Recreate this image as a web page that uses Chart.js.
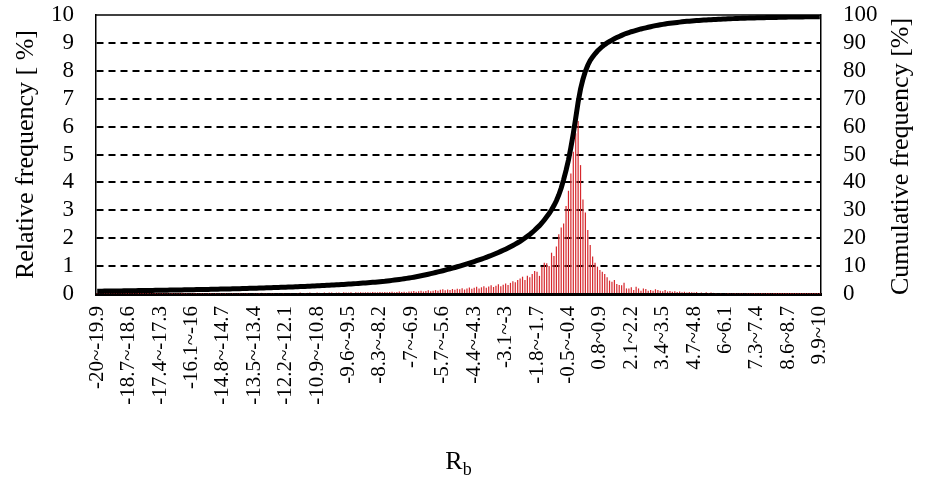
<!DOCTYPE html>
<html>
<head>
<meta charset="utf-8">
<script src="https://cdn.jsdelivr.net/npm/chart.js@4.4.0/dist/chart.umd.min.js"></script>
<style>
  html, body { margin: 0; padding: 0; background: #fff; }
  #wrap { width: 925px; height: 479px; }
</style>
</head>
<body>
<div id="wrap"><canvas id="myChart" width="925" height="479"></canvas></div>
<script>
// bins of R_b, 0.1 wide, from -20 to 10
var binLabels = [
  '-20~-19.9','-19.9~-19.8','-19.8~-19.7','-19.7~-19.6','-19.6~-19.5','-19.5~-19.4','-19.4~-19.3','-19.3~-19.2','-19.2~-19.1','-19.1~-19',
  '-19~-18.9','-18.9~-18.8','-18.8~-18.7','-18.7~-18.6','-18.6~-18.5','-18.5~-18.4','-18.4~-18.3','-18.3~-18.2','-18.2~-18.1','-18.1~-18',
  '-18~-17.9','-17.9~-17.8','-17.8~-17.7','-17.7~-17.6','-17.6~-17.5','-17.5~-17.4','-17.4~-17.3','-17.3~-17.2','-17.2~-17.1','-17.1~-17',
  '-17~-16.9','-16.9~-16.8','-16.8~-16.7','-16.7~-16.6','-16.6~-16.5','-16.5~-16.4','-16.4~-16.3','-16.3~-16.2','-16.2~-16.1','-16.1~-16',
  '-16~-15.9','-15.9~-15.8','-15.8~-15.7','-15.7~-15.6','-15.6~-15.5','-15.5~-15.4','-15.4~-15.3','-15.3~-15.2','-15.2~-15.1','-15.1~-15',
  '-15~-14.9','-14.9~-14.8','-14.8~-14.7','-14.7~-14.6','-14.6~-14.5','-14.5~-14.4','-14.4~-14.3','-14.3~-14.2','-14.2~-14.1','-14.1~-14',
  '-14~-13.9','-13.9~-13.8','-13.8~-13.7','-13.7~-13.6','-13.6~-13.5','-13.5~-13.4','-13.4~-13.3','-13.3~-13.2','-13.2~-13.1','-13.1~-13',
  '-13~-12.9','-12.9~-12.8','-12.8~-12.7','-12.7~-12.6','-12.6~-12.5','-12.5~-12.4','-12.4~-12.3','-12.3~-12.2','-12.2~-12.1','-12.1~-12',
  '-12~-11.9','-11.9~-11.8','-11.8~-11.7','-11.7~-11.6','-11.6~-11.5','-11.5~-11.4','-11.4~-11.3','-11.3~-11.2','-11.2~-11.1','-11.1~-11',
  '-11~-10.9','-10.9~-10.8','-10.8~-10.7','-10.7~-10.6','-10.6~-10.5','-10.5~-10.4','-10.4~-10.3','-10.3~-10.2','-10.2~-10.1','-10.1~-10',
  '-10~-9.9','-9.9~-9.8','-9.8~-9.7','-9.7~-9.6','-9.6~-9.5','-9.5~-9.4','-9.4~-9.3','-9.3~-9.2','-9.2~-9.1','-9.1~-9',
  '-9~-8.9','-8.9~-8.8','-8.8~-8.7','-8.7~-8.6','-8.6~-8.5','-8.5~-8.4','-8.4~-8.3','-8.3~-8.2','-8.2~-8.1','-8.1~-8',
  '-8~-7.9','-7.9~-7.8','-7.8~-7.7','-7.7~-7.6','-7.6~-7.5','-7.5~-7.4','-7.4~-7.3','-7.3~-7.2','-7.2~-7.1','-7.1~-7',
  '-7~-6.9','-6.9~-6.8','-6.8~-6.7','-6.7~-6.6','-6.6~-6.5','-6.5~-6.4','-6.4~-6.3','-6.3~-6.2','-6.2~-6.1','-6.1~-6',
  '-6~-5.9','-5.9~-5.8','-5.8~-5.7','-5.7~-5.6','-5.6~-5.5','-5.5~-5.4','-5.4~-5.3','-5.3~-5.2','-5.2~-5.1','-5.1~-5',
  '-5~-4.9','-4.9~-4.8','-4.8~-4.7','-4.7~-4.6','-4.6~-4.5','-4.5~-4.4','-4.4~-4.3','-4.3~-4.2','-4.2~-4.1','-4.1~-4',
  '-4~-3.9','-3.9~-3.8','-3.8~-3.7','-3.7~-3.6','-3.6~-3.5','-3.5~-3.4','-3.4~-3.3','-3.3~-3.2','-3.2~-3.1','-3.1~-3',
  '-3~-2.9','-2.9~-2.8','-2.8~-2.7','-2.7~-2.6','-2.6~-2.5','-2.5~-2.4','-2.4~-2.3','-2.3~-2.2','-2.2~-2.1','-2.1~-2',
  '-2~-1.9','-1.9~-1.8','-1.8~-1.7','-1.7~-1.6','-1.6~-1.5','-1.5~-1.4','-1.4~-1.3','-1.3~-1.2','-1.2~-1.1','-1.1~-1',
  '-1~-0.9','-0.9~-0.8','-0.8~-0.7','-0.7~-0.6','-0.6~-0.5','-0.5~-0.4','-0.4~-0.3','-0.3~-0.2','-0.2~-0.1','-0.1~0',
  '0~0.1','0.1~0.2','0.2~0.3','0.3~0.4','0.4~0.5','0.5~0.6','0.6~0.7','0.7~0.8','0.8~0.9','0.9~1',
  '1~1.1','1.1~1.2','1.2~1.3','1.3~1.4','1.4~1.5','1.5~1.6','1.6~1.7','1.7~1.8','1.8~1.9','1.9~2',
  '2~2.1','2.1~2.2','2.2~2.3','2.3~2.4','2.4~2.5','2.5~2.6','2.6~2.7','2.7~2.8','2.8~2.9','2.9~3',
  '3~3.1','3.1~3.2','3.2~3.3','3.3~3.4','3.4~3.5','3.5~3.6','3.6~3.7','3.7~3.8','3.8~3.9','3.9~4',
  '4~4.1','4.1~4.2','4.2~4.3','4.3~4.4','4.4~4.5','4.5~4.6','4.6~4.7','4.7~4.8','4.8~4.9','4.9~5',
  '5~5.1','5.1~5.2','5.2~5.3','5.3~5.4','5.4~5.5','5.5~5.6','5.6~5.7','5.7~5.8','5.8~5.9','5.9~6',
  '6~6.1','6.1~6.2','6.2~6.3','6.3~6.4','6.4~6.5','6.5~6.6','6.6~6.7','6.7~6.8','6.8~6.9','6.9~7',
  '7~7.1','7.1~7.2','7.2~7.3','7.3~7.4','7.4~7.5','7.5~7.6','7.6~7.7','7.7~7.8','7.8~7.9','7.9~8',
  '8~8.1','8.1~8.2','8.2~8.3','8.3~8.4','8.4~8.5','8.5~8.6','8.6~8.7','8.7~8.8','8.8~8.9','8.9~9',
  '9~9.1','9.1~9.2','9.2~9.3','9.3~9.4','9.4~9.5','9.5~9.6','9.6~9.7','9.7~9.8','9.8~9.9','9.9~10'
];

// relative frequency [%] per bin
var relFreq = [
  0.01,0.01,0.02,0.01,0.01,0.01,0.02,0.01,0.01,0.02,
  0.01,0.02,0.01,0.01,0.02,0.01,0.02,0.01,0.02,0.01,
  0.02,0.01,0.02,0.02,0.01,0.02,0.02,0.01,0.02,0.02,
  0.02,0.01,0.02,0.02,0.02,0.01,0.02,0.02,0.03,0.02,
  0.02,0.02,0.03,0.02,0.02,0.03,0.02,0.02,0.03,0.02,
  0.03,0.02,0.03,0.02,0.03,0.03,0.02,0.03,0.03,0.02,
  0.03,0.03,0.02,0.03,0.04,0.03,0.03,0.02,0.04,0.03,
  0.03,0.04,0.03,0.03,0.04,0.03,0.04,0.03,0.04,0.04,
  0.03,0.04,0.04,0.03,0.05,0.04,0.03,0.04,0.05,0.04,
  0.04,0.05,0.04,0.04,0.05,0.04,0.05,0.05,0.04,0.05,
  0.05,0.04,0.06,0.05,0.05,0.06,0.04,0.06,0.05,0.06,
  0.05,0.06,0.06,0.05,0.07,0.06,0.06,0.07,0.06,0.07,
  0.06,0.07,0.08,0.06,0.07,0.09,0.07,0.08,0.06,0.09,
  0.09,0.11,0.08,0.10,0.12,0.09,0.11,0.13,0.10,0.12,
  0.14,0.12,0.15,0.17,0.13,0.16,0.14,0.18,0.15,0.19,
  0.17,0.21,0.16,0.20,0.23,0.19,0.22,0.26,0.20,0.24,
  0.28,0.22,0.27,0.31,0.25,0.30,0.35,0.28,0.33,0.38,
  0.32,0.40,0.46,0.42,0.50,0.56,0.62,0.50,0.65,0.60,
  0.72,0.82,0.80,0.65,0.98,1.12,1.10,1.00,1.48,1.36,
  1.70,2.14,2.38,2.53,3.15,3.70,4.32,5.10,5.76,6.20,
  4.62,3.39,2.92,2.29,1.76,1.34,1.12,0.98,0.86,0.80,
  0.72,0.60,0.48,0.44,0.50,0.36,0.32,0.31,0.40,0.20,
  0.20,0.24,0.14,0.26,0.20,0.12,0.20,0.18,0.12,0.14,
  0.12,0.17,0.14,0.12,0.10,0.14,0.09,0.11,0.08,0.10,
  0.07,0.09,0.06,0.08,0.05,0.07,0.06,0.05,0.07,0.04,
  0.05,0.04,0.06,0.03,0.05,0.04,0.03,0.04,0.03,0.04,
  0.03,0.02,0.03,0.03,0.02,0.03,0.02,0.02,0.03,0.02,
  0.02,0.02,0.01,0.02,0.02,0.01,0.02,0.01,0.01,0.02,
  0.01,0.01,0.01,0.01,0.01,0.01,0.01,0.01,0.01,0.01,
  0.01,0.01,0.01,0.01,0.01,0.01,0.01,0.01,0.01,0.01
];

// cumulative frequency [%] per bin
var cumFreq = [
  1.00,1.01,1.02,1.04,1.05,1.06,1.07,1.08,1.10,1.11,
  1.12,1.13,1.15,1.16,1.17,1.18,1.20,1.21,1.22,1.24,
  1.25,1.26,1.28,1.29,1.30,1.32,1.33,1.35,1.36,1.38,
  1.39,1.41,1.42,1.44,1.45,1.47,1.48,1.50,1.52,1.53,
  1.55,1.57,1.58,1.60,1.62,1.64,1.65,1.67,1.69,1.71,
  1.73,1.75,1.77,1.79,1.81,1.83,1.85,1.88,1.90,1.92,
  1.95,1.97,1.99,2.02,2.04,2.07,2.09,2.12,2.15,2.17,
  2.20,2.23,2.26,2.29,2.32,2.35,2.38,2.41,2.44,2.47,
  2.51,2.54,2.58,2.61,2.65,2.69,2.72,2.76,2.80,2.84,
  2.88,2.92,2.97,3.01,3.05,3.10,3.14,3.19,3.24,3.29,
  3.34,3.39,3.44,3.49,3.55,3.60,3.66,3.72,3.78,3.84,
  3.90,3.97,4.03,4.10,4.17,4.24,4.32,4.40,4.48,4.56,
  4.68,4.78,4.88,4.99,5.10,5.22,5.34,5.47,5.60,5.74,
  5.88,6.03,6.19,6.36,6.53,6.71,6.90,7.09,7.29,7.49,
  7.70,7.91,8.13,8.35,8.57,8.80,9.03,9.27,9.51,9.76,
  10.01,10.27,10.53,10.80,11.07,11.35,11.63,11.92,12.21,12.51,
  12.82,13.14,13.47,13.81,14.16,14.52,14.89,15.27,15.66,16.06,
  16.48,16.92,17.38,17.86,18.37,18.90,19.46,20.05,20.70,21.35,
  22.05,22.85,23.70,24.50,25.45,26.55,27.70,28.80,30.20,31.70,
  33.40,35.50,38.00,41.00,44.30,48.00,52.50,57.50,63.00,68.80,
  73.50,77.00,79.80,82.00,83.70,85.00,86.10,87.10,87.90,88.70,
  89.40,90.00,90.50,91.00,91.50,91.90,92.30,92.70,93.10,93.40,
  93.70,94.00,94.25,94.50,94.75,95.00,95.20,95.40,95.60,95.80,
  96.00,96.20,96.35,96.50,96.65,96.80,96.95,97.05,97.15,97.25,
  97.35,97.45,97.55,97.65,97.72,97.80,97.87,97.94,98.00,98.06,
  98.12,98.18,98.23,98.28,98.33,98.38,98.42,98.46,98.50,98.54,
  98.58,98.62,98.66,98.70,98.73,98.76,98.79,98.82,98.85,98.88,
  98.91,98.94,98.96,98.98,99.00,99.02,99.04,99.06,99.08,99.10,
  99.12,99.14,99.16,99.18,99.20,99.22,99.24,99.25,99.27,99.28,
  99.30,99.31,99.32,99.33,99.34,99.35,99.36,99.37,99.38,99.40
];

var leftTitle = 'Relative frequency [ %]';
var rightTitle = 'Cumulative frequency [%]';
var xTitle = 'R';
var xTitleSub = 'b';
var labelEvery = 13;

var serif = '"Liberation Serif", "Times New Roman", serif';

// axis titles, top frame line
var frame = {
    id: 'frame',
    afterDraw: function (chart) {
        var ctx = chart.ctx;
        var a = chart.chartArea;
        var midY = (a.top + a.bottom) / 2;
        ctx.save();
        ctx.strokeStyle = '#000';
        ctx.lineWidth = 1.5;
        ctx.beginPath();
        ctx.moveTo(a.left, a.top);
        ctx.lineTo(a.right, a.top);
        ctx.stroke();

        ctx.fillStyle = '#000';
        ctx.textAlign = 'center';
        ctx.textBaseline = 'middle';
        ctx.font = '26px ' + serif;

        ctx.save();
        ctx.translate(a.left - 70, midY);
        ctx.rotate(-Math.PI / 2);
        ctx.fillText(leftTitle, 0, 0);
        ctx.restore();

        ctx.save();
        ctx.translate(a.right + 80, midY + 2);
        ctx.rotate(-Math.PI / 2);
        ctx.fillText(rightTitle, 0, 0);
        ctx.restore();

        // R with subscript b
        ctx.textBaseline = 'alphabetic';
        ctx.textAlign = 'left';
        ctx.font = '26px ' + serif;
        var wR = ctx.measureText(xTitle).width;
        ctx.font = '18px ' + serif;
        var wB = ctx.measureText(xTitleSub).width;
        var x0 = (a.left + a.right) / 2 - (wR + wB) / 2;
        ctx.font = '26px ' + serif;
        ctx.fillText(xTitle, x0, 469);
        ctx.font = '18px ' + serif;
        ctx.fillText(xTitleSub, x0 + wR, 475);
        ctx.restore();
    }
};

function fixWidth(w) {
    return function (scale) {
        scale.width = w;
        scale.paddingTop = 0;
        scale.paddingBottom = 0;
    };
}

var ctx = document.getElementById('myChart');
var myChart = new Chart(ctx, {
    data: {
        labels: binLabels,
        datasets: [{
            type: 'line',
            label: 'Cumulative frequency',
            data: cumFreq,
            yAxisID: 'y2',
            borderColor: '#000',
            borderWidth: 5,
            pointRadius: 0,
            tension: 0,
            order: 1
        }, {
            type: 'bar',
            label: 'Relative frequency',
            data: relFreq,
            yAxisID: 'y',
            backgroundColor: 'rgb(214, 40, 45)',
            barPercentage: 0.5,
            categoryPercentage: 1.0,
            order: 2
        }]
    },
    options: {
        responsive: false,
        animation: false,
        layout: { padding: { top: 15 } },
        plugins: {
            legend: { display: false },
            tooltip: { enabled: false }
        },
        scales: {
            x: {
                grid: { display: false, drawTicks: false },
                border: { color: '#000', width: 3 },
                ticks: {
                    autoSkip: false,
                    maxRotation: 90,
                    minRotation: 90,
                    padding: 12,
                    color: '#000',
                    font: { family: serif, size: 21 },
                    callback: function (value, index) {
                        return index % labelEvery === 0 ? this.getLabelForValue(value) : '';
                    }
                },
                afterFit: function (scale) { scale.height = 185; }
            },
            y: {
                position: 'left',
                min: 0,
                max: 10,
                ticks: {
                    stepSize: 1,
                    autoSkip: false,
                    padding: 22,
                    color: '#000',
                    font: { family: serif, size: 23 }
                },
                grid: {
                    drawTicks: false,
                    lineWidth: 2,
                    color: function (c) {
                        return (c.tick && c.tick.value > 0 && c.tick.value < 10) ? '#000' : 'rgba(0,0,0,0)';
                    }
                },
                border: { color: '#000', width: 1.5, dash: [7, 5] },
                afterFit: fixWidth(96)
            },
            y2: {
                position: 'right',
                min: 0,
                max: 100,
                ticks: {
                    stepSize: 10,
                    autoSkip: false,
                    padding: 22,
                    color: '#000',
                    font: { family: serif, size: 23 }
                },
                grid: { display: false, drawTicks: false },
                border: { color: '#000', width: 1.5 },
                afterFit: fixWidth(104)
            }
        }
    },
    plugins: [frame]
});
</script>
</body>
</html>
